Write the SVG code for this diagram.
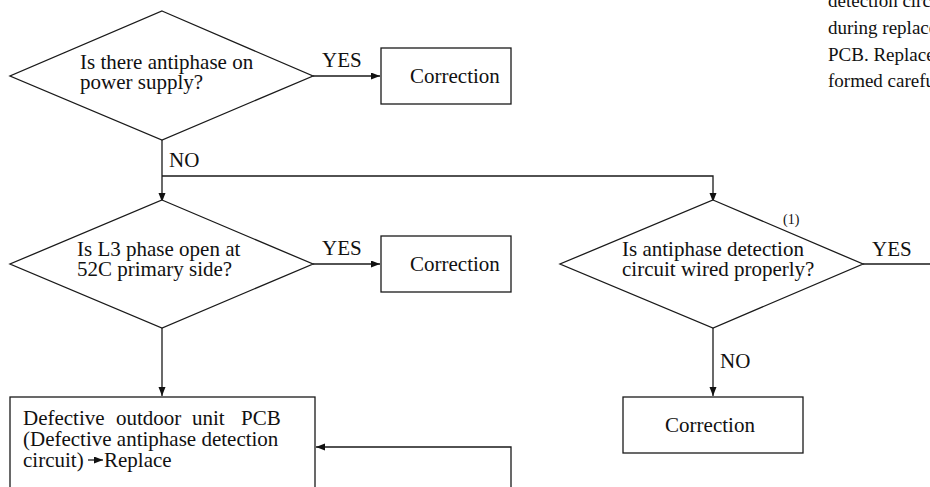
<svg xmlns="http://www.w3.org/2000/svg" width="930" height="487" viewBox="0 0 930 487">
<style>
  .shape { fill: #fff; stroke: #1a1a1a; stroke-width: 1.3; }
  .line { fill: none; stroke: #1a1a1a; stroke-width: 1.3; }
  .t { font-family: "Liberation Serif", "Times New Roman", serif; font-size: 21px; fill: #111; }
  .s { font-family: "Liberation Serif", "Times New Roman", serif; font-size: 14px; fill: #111; }
  .p { font-family: "Liberation Serif", "Times New Roman", serif; font-size: 19px; fill: #111; }
</style>
<defs>
  <marker id="ah" markerUnits="userSpaceOnUse" markerWidth="10" markerHeight="8" refX="9" refY="3.5" orient="auto">
    <path d="M0,0 L9,3.5 L0,7 z" fill="#111"/>
  </marker>
</defs>
<rect width="930" height="487" fill="#fff"/>

<g id="note">
  <text class="p" x="828" y="7">detection circ</text>
  <text class="p" x="828" y="34">during replace</text>
  <text class="p" x="828" y="61">PCB. Replace</text>
  <text class="p" x="828" y="87">formed carefu</text>
</g>

<g id="connectors">
  <path class="line" d="M313,76 H380" marker-end="url(#ah)"/>
  <path class="line" d="M162,140 V202" marker-end="url(#ah)"/>
  <path class="line" d="M162,176 H713 V202" marker-end="url(#ah)"/>
  <path class="line" d="M313,264 H380" marker-end="url(#ah)"/>
  <path class="line" d="M162,328 V396" marker-end="url(#ah)"/>
  <path class="line" d="M863,264 H930"/>
  <path class="line" d="M713,328 V396" marker-end="url(#ah)"/>
  <path class="line" d="M511,487 V447 H316" marker-end="url(#ah)"/>
  <text class="t" x="322" y="67">YES</text>
  <text class="t" x="169" y="167">NO</text>
  <text class="t" x="322" y="255">YES</text>
  <text class="t" x="872" y="256">YES</text>
  <text class="t" x="720" y="368">NO</text>
</g>

<g id="q1">
  <polygon class="shape" points="162,11 313,76 162,140 10,76"/>
  <text class="t" x="80" y="69">Is there antiphase on</text>
  <text class="t" x="80" y="89">power supply?</text>
</g>

<g id="fix1">
  <rect class="shape" x="381" y="48" width="130" height="56"/>
  <text class="t" x="410" y="83">Correction</text>
</g>

<g id="q2">
  <polygon class="shape" points="162,200 313,264 162,328 10,264"/>
  <text class="t" x="77" y="256">Is L3 phase open at</text>
  <text class="t" x="77" y="276">52C primary side?</text>
</g>

<g id="fix2">
  <rect class="shape" x="381" y="236" width="130" height="56"/>
  <text class="t" x="410" y="271">Correction</text>
</g>

<g id="q3">
  <polygon class="shape" points="713,200 863,264 713,328 560,264"/>
  <text class="s" x="783" y="224">(1)</text>
  <text class="t" x="622" y="256">Is antiphase detection</text>
  <text class="t" x="622" y="276">circuit wired properly?</text>
</g>

<g id="fix3">
  <rect class="shape" x="623" y="397" width="180" height="56"/>
  <text class="t" x="710" y="432" text-anchor="middle">Correction</text>
</g>

<g id="pcb">
  <rect class="shape" x="10" y="397" width="305" height="100"/>
  <text class="t" y="425"><tspan x="23">Defective</tspan><tspan x="116">outdoor</tspan><tspan x="192">unit</tspan><tspan x="241">PCB</tspan></text>
  <text class="t" x="23" y="446">(Defective antiphase detection</text>
  <text class="t" x="23" y="467">circuit)</text>
  <path class="line" d="M88,460 H103" marker-end="url(#ah)"/>
  <text class="t" x="104" y="467">Replace</text>
</g>
</svg>
